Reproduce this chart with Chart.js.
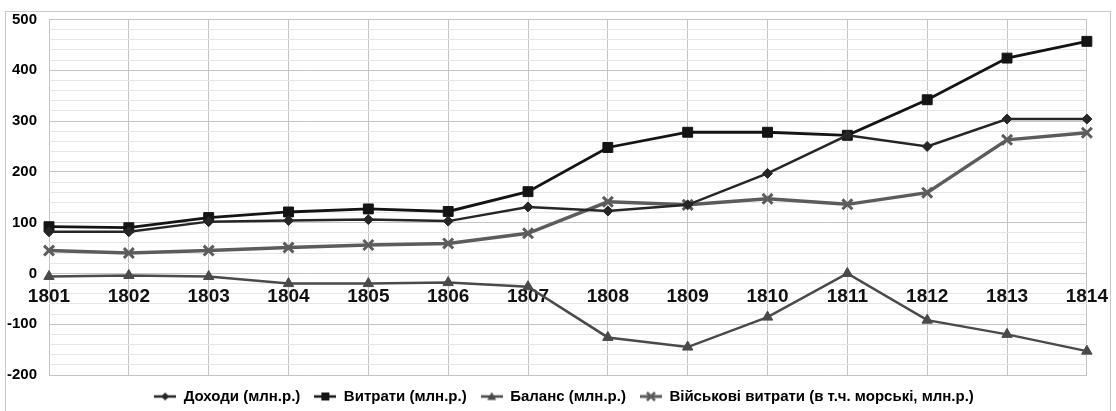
<!DOCTYPE html>
<html>
<head>
<meta charset="utf-8">
<script src="https://cdn.jsdelivr.net/npm/chart.js@4.4.0/dist/chart.umd.min.js"></script>
<style>
html, body { margin: 0; padding: 0; background: #fff; overflow: hidden; }
#frame { position: absolute; left: 5px; top: 11px; width: 1104px; height: 402px; border: 1px solid #c8c8c8; }
#chart { position: absolute; left: 6px; top: 0; display: block; }
</style>
</head>
<body>
<div id="frame"></div>
<canvas id="chart" width="1116" height="414" style="width:1116px;height:414px"></canvas>
<script>
// дані
const years = ['1801', '1802', '1803', '1804', '1805', '1806', '1807', '1808', '1809', '1810', '1811', '1812', '1813', '1814'];
const income = [82, 82, 102, 104, 106, 103, 131, 123, 135, 197, 272, 250, 304, 304];
const expenses = [92, 90, 110, 121, 127, 122, 161, 248, 278, 278, 272, 342, 424, 457];
const balance = [-6, -4, -6, -20, -20, -18, -26, -126, -145, -86, 0, -92, -120, -153];
const military = [45, 40, 45, 51, 56, 59, 79, 141, 135, 147, 136, 159, 263, 277];

const seriesNames = ['Доходи (млн.р.)', 'Витрати (млн.р.)', 'Баланс (млн.р.)', 'Військові витрати (в т.ч. морські, млн.р.)'];

// іконки легенди: лінія з маркером
function makeIcon(color, style, lw) {
    const c = document.createElement('canvas');
    c.width = 22; c.height = 12;
    const g = c.getContext('2d');
    g.strokeStyle = color; g.fillStyle = color; g.lineWidth = lw;
    g.beginPath(); g.moveTo(0, 6); g.lineTo(22, 6); g.stroke();
    g.beginPath();
    if (style === 'diamond') {
        g.moveTo(11, 2); g.lineTo(15, 6); g.lineTo(11, 10); g.lineTo(7, 6); g.closePath(); g.fill();
    } else if (style === 'square') {
        g.fillRect(7, 2, 8, 8);
    } else if (style === 'triangle') {
        g.moveTo(11, 1.5); g.lineTo(15.5, 9.5); g.lineTo(6.5, 9.5); g.closePath(); g.fill();
    } else {
        g.lineWidth = 2.5;
        g.moveTo(7, 2); g.lineTo(15, 10); g.moveTo(15, 2); g.lineTo(7, 10); g.stroke();
    }
    return c;
}

const colors = ['#262626', '#141414', '#4a4a4a', '#5c5c5c'];
const icons = [
    makeIcon(colors[0], 'diamond', 2.5),
    makeIcon(colors[1], 'square', 2.5),
    makeIcon(colors[2], 'triangle', 2.5),
    makeIcon(colors[3], 'cross', 3)
];

const ctx = document.getElementById('chart').getContext('2d');
new Chart(ctx, {
    type: 'line',
    data: {
        labels: years,
        datasets: [{
            label: seriesNames[0],
            data: income,
            borderColor: colors[0],
            backgroundColor: colors[0],
            borderWidth: 2.5,
            pointStyle: 'rectRot',
            pointRadius: 5,
            pointBorderWidth: 1,
            fill: false
        }, {
            label: seriesNames[1],
            data: expenses,
            borderColor: colors[1],
            backgroundColor: colors[1],
            borderWidth: 2.8,
            pointStyle: 'rect',
            pointRadius: 7,
            pointBorderWidth: 1,
            fill: false
        }, {
            label: seriesNames[2],
            data: balance,
            borderColor: colors[2],
            backgroundColor: colors[2],
            borderWidth: 2.5,
            pointStyle: 'triangle',
            pointRadius: 6,
            pointBorderWidth: 1,
            fill: false
        }, {
            label: seriesNames[3],
            data: military,
            borderColor: colors[3],
            backgroundColor: colors[3],
            borderWidth: 3.5,
            pointStyle: 'crossRot',
            pointRadius: 7,
            pointBorderWidth: 3,
            fill: false
        }]
    },
    options: {
        responsive: false,
        animation: false,
        layout: {
            padding: { left: 0, right: 0, top: 0, bottom: 0 }
        },
        elements: {
            line: { tension: 0 }
        },
        scales: {
            x: {
                position: { y: 0 },
                offset: false,
                grid: {
                    color: '#c4c4c4',
                    lineWidth: 1,
                    drawTicks: false
                },
                border: { display: false },
                ticks: {
                    padding: 14,
                    color: '#111',
                    font: { family: 'Arial, "Liberation Sans"', size: 19, weight: 'bold', lineHeight: 1 },
                    maxRotation: 0,
                    autoSkip: false
                }
            },
            y: {
                min: -200,
                max: 500,
                afterFit: function(scale) { scale.width = 43; },
                grid: {
                    color: function(c) { return c.tick && c.tick.value % 100 === 0 ? '#c4c4c4' : '#e6e6e6'; },
                    lineWidth: 1,
                    drawTicks: false
                },
                border: { display: false },
                ticks: {
                    stepSize: 20,
                    autoSkip: false,
                    padding: 12,
                    color: '#000',
                    font: { family: 'Arial, "Liberation Sans"', size: 15, weight: 'bold', lineHeight: 1 },
                    callback: function(v) { return v % 100 === 0 ? String(v) : ''; }
                }
            }
        },
        plugins: {
            legend: {
                position: 'bottom',
                labels: {
                    usePointStyle: true,
                    pointStyleWidth: 22,
                    padding: 14,
                    color: '#000',
                    font: { family: 'Arial, "Liberation Sans"', size: 15, weight: 'bold' },
                    generateLabels: function(chart) {
                        const items = Chart.defaults.plugins.legend.labels.generateLabels(chart);
                        items.forEach(function(it, i) { it.pointStyle = icons[i]; });
                        return items;
                    }
                }
            },
            tooltip: { enabled: false }
        }
    }
});
</script>
</body>
</html>
